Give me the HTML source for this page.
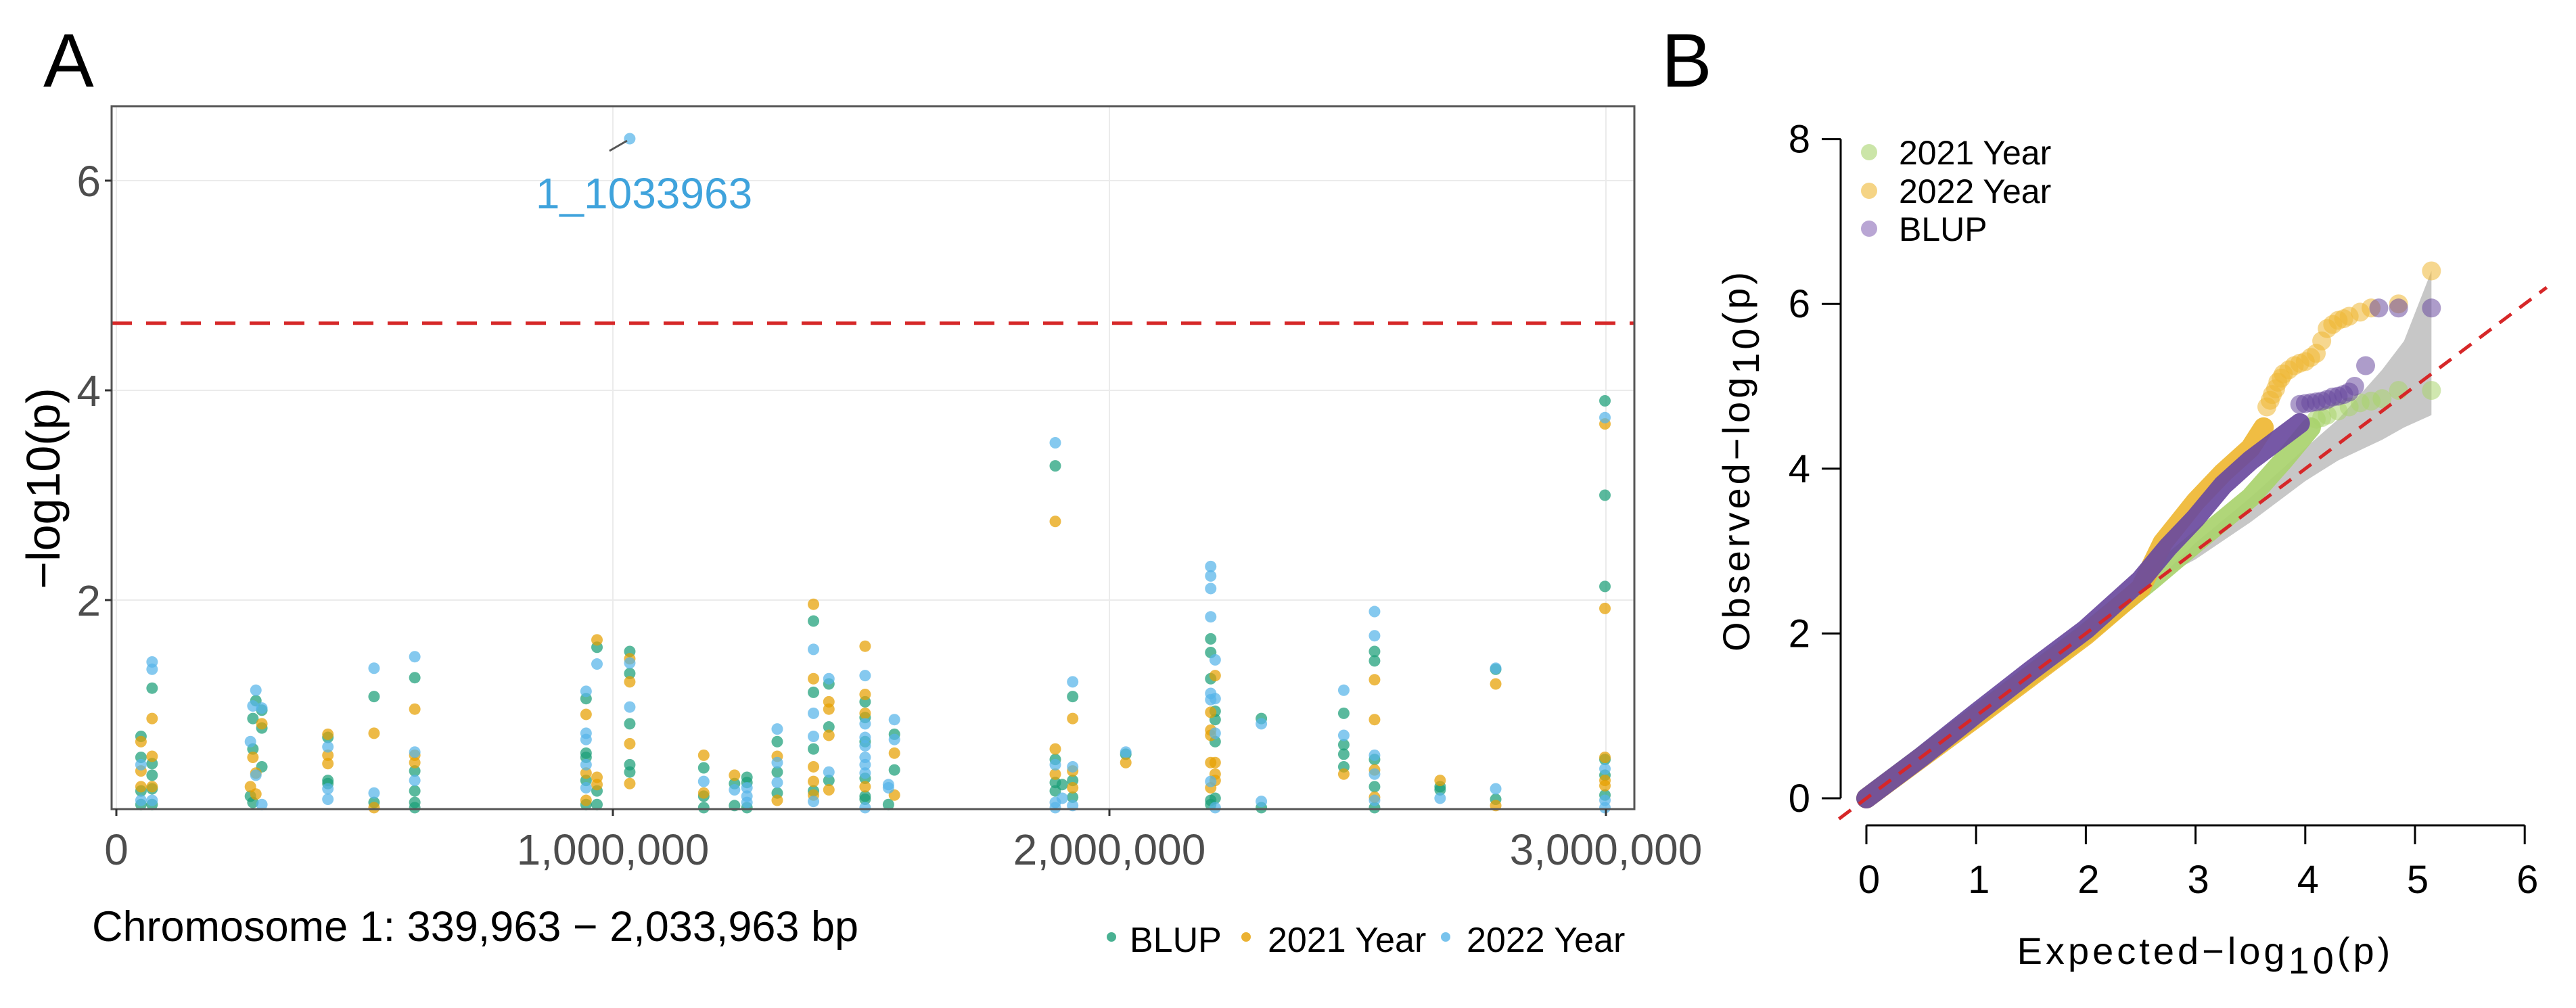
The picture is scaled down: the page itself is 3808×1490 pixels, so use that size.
<!DOCTYPE html>
<html><head><meta charset="utf-8"><style>
html,body{margin:0;padding:0;background:#fff;}
svg{display:block;font-family:"Liberation Sans",Arial,sans-serif;}
</style></head><body>
<svg id="fig" width="3808" height="1490" viewBox="0 0 3808 1490" xmlns="http://www.w3.org/2000/svg">
<g id="panelA"></g>
<g id="panelB"></g>
</svg>
<script>
// ---------- Panel A data (position bp, -log10 p) ----------
const blupPts = [
[49600,0.70],[49600,0.50],[49600,0.18],[49600,0.05],
[72000,1.16],[72000,0.44],[72000,0.33],[72000,0.20],[72000,0.05],
[281000,1.04],[293000,0.95],[275000,0.87],[293000,0.78],[275000,0.58],[293000,0.41],[270000,0.13],[275000,0.07],
[426000,0.69],[426000,0.28],[426000,0.25],
[519000,1.08],[519000,0.07],
[601000,1.26],[601000,0.37],[601000,0.18],[601000,0.07],[601000,0.02],
[946000,1.06],[946000,0.54],[946000,0.50],[946000,0.28],[946000,0.05],
[968000,1.55],[968000,0.18],[968000,0.05],
[1034000,1.51],[1034000,1.30],[1034000,0.82],[1034000,0.43],[1034000,0.36],
[1183000,0.40],[1183000,0.13],[1183000,0.02],
[1245000,0.25],[1245000,0.04],[1270000,0.31],[1270000,0.26],[1270000,0.02],
[1331000,0.65],[1331000,0.36],[1331000,0.16],
[1404000,1.80],[1404000,1.12],[1404000,0.58],[1404000,0.18],
[1435000,1.20],[1435000,0.79],[1435000,0.28],
[1508000,1.03],[1508000,0.88],[1508000,0.65],[1508000,0.30],[1508000,0.13],[1508000,0.10],
[1555000,0.05],[1567000,0.72],[1567000,0.38],
[1891000,3.28],[1891000,0.48],[1891000,0.26],[1891000,0.18],[1905000,0.24],
[1926000,1.08],[1926000,0.28],[1926000,0.12],
[2033000,0.53],
[2204000,1.63],[2204000,1.50],[2204000,1.25],[2204000,0.09],[2204000,0.05],
[2213000,0.94],[2213000,0.86],[2213000,0.65],[2213000,0.11],
[2306000,0.87],[2306000,0.02],
[2472000,0.92],[2472000,0.62],[2472000,0.53],[2472000,0.41],
[2534000,1.51],[2534000,1.42],[2534000,0.48],[2534000,0.22],[2534000,0.02],
[2666000,0.22],[2666000,0.19],
[2778000,1.34],[2778000,0.10],
[2998000,3.90],[2998000,3.00],[2998000,2.13],[2998000,0.48],[2998000,0.33],[2998000,0.14]
];
const y2021Pts = [
[49600,0.65],[49600,0.37],[49600,0.22],
[72000,0.87],[72000,0.51],[72000,0.22],
[293000,0.82],[275000,0.50],[281000,0.35],[270000,0.22],[281000,0.15],
[426000,0.72],[426000,0.52],[426000,0.44],
[519000,0.73],[519000,0.02],
[601000,0.96],[601000,0.52],[601000,0.45],
[946000,0.91],[946000,0.35],[946000,0.09],
[968000,1.62],[968000,0.31],[968000,0.24],
[1034000,1.44],[1034000,1.22],[1034000,0.63],[1034000,0.25],
[1183000,0.52],[1183000,0.16],[1245000,0.33],
[1331000,0.51],[1331000,0.09],
[1404000,1.96],[1404000,1.25],[1404000,0.41],[1404000,0.27],[1404000,0.14],
[1435000,1.03],[1435000,0.96],[1435000,0.71],[1435000,0.19],
[1508000,1.56],[1508000,1.10],[1508000,0.92],[1508000,0.22],
[1567000,0.54],[1567000,0.14],
[1891000,2.75],[1891000,0.58],[1891000,0.34],
[1926000,0.87],[1926000,0.37],[1926000,0.21],
[2033000,0.45],
[2204000,0.93],[2204000,0.76],[2204000,0.71],[2204000,0.45],[2204000,0.21],
[2213000,1.28],[2213000,0.45],[2213000,0.34],[2213000,0.28],
[2472000,0.34],
[2534000,1.24],[2534000,0.86],[2534000,0.38],[2534000,0.12],
[2666000,0.28],
[2778000,1.20],[2778000,0.04],
[2998000,3.68],[2998000,1.92],[2998000,0.50],[2998000,0.28],[2998000,0.23]
];
const y2022Pts = [
[49600,0.43],[49600,0.09],
[72000,1.41],[72000,1.34],[72000,0.09],
[281000,1.14],[275000,0.99],[293000,0.97],[270000,0.65],[281000,0.33],[293000,0.05],
[426000,0.60],[426000,0.20],[426000,0.10],
[519000,1.35],[519000,0.16],
[601000,1.46],[601000,0.55],[601000,0.28],
[946000,1.13],[946000,0.73],[946000,0.67],[946000,0.43],[946000,0.21],
[968000,1.39],
[1034000,1.40],[1034000,0.98],
[1033963,6.40],
[1183000,0.27],[1245000,0.19],[1270000,0.21],[1270000,0.13],[1270000,0.07],
[1331000,0.77],[1331000,0.45],[1331000,0.26],
[1404000,1.53],[1404000,0.92],[1404000,0.70],[1404000,0.08],
[1435000,1.25],[1435000,0.36],
[1508000,1.28],[1508000,0.82],[1508000,0.69],[1508000,0.61],[1508000,0.50],[1508000,0.43],[1508000,0.35],[1508000,0.02],
[1555000,0.24],[1555000,0.21],
[1567000,0.86],[1567000,0.67],
[1891000,3.50],[1891000,0.43],[1891000,0.07],[1891000,0.02],[1905000,0.11],
[1926000,1.22],[1926000,0.41],[1926000,0.04],
[2033000,0.55],
[2204000,2.32],[2204000,2.23],[2204000,2.11],[2204000,1.84],[2204000,1.11],[2204000,1.05],[2204000,0.27],
[2213000,1.43],[2213000,1.06],[2213000,0.73],[2213000,0.02],
[2306000,0.82],[2306000,0.08],
[2472000,1.14],[2472000,0.71],
[2534000,1.89],[2534000,1.66],[2534000,0.52],[2534000,0.34],[2534000,0.09],
[2666000,0.11],
[2778000,1.35],[2778000,0.20],
[2998000,3.74],[2998000,0.39],[2998000,0.09],[2998000,0.02]
];
const yTicksA = [2,4,6];
const xTicksA = [0,1000000,2000000,3000000];
const xTickLabelsA = ["0","1,000,000","2,000,000","3,000,000"];
const thresholdA = 4.64;

// ---------- Panel B data ----------
const qqTicksX = [0,1,2,3,4,5,6];
const qqTicksY = [0,2,4,6,8];
const ciExp = [2.65,3.0,3.5,4.0,4.3,4.7,4.9,5.15];
const ciUpper = [2.65,3.1,3.65,4.25,4.6,5.2,5.55,6.4];
const ciLower = [2.65,2.9,3.35,3.85,4.1,4.35,4.5,4.65];
const y2021LineExp = [0,1,2,2.6,3,3.5,3.8,4.05];
const y2021LineObs = [0,1.0,2.0,2.65,3.1,3.65,4.1,4.5];
const y2021TailExp = [4.1,4.15,4.2,4.3,4.4,4.5,4.6,4.7,4.85,5.15];
const y2021TailObs = [4.6,4.62,4.65,4.7,4.75,4.8,4.82,4.85,4.95,4.95];
const y2022LineExp = [0,1,2,2.5,2.7,3,3.25,3.5,3.62];
const y2022LineObs = [0,0.98,1.98,2.55,3.1,3.6,3.95,4.25,4.5];
const y2022TailExp = [3.65,3.68,3.7,3.73,3.75,3.78,3.8,3.85,3.9,3.95,4.0,4.05,4.1,4.15,4.2,4.25,4.3,4.35,4.4,4.5,4.6,4.85,5.15];
const y2022TailObs = [4.75,4.83,4.9,4.97,5.05,5.1,5.15,5.2,5.25,5.28,5.3,5.35,5.4,5.55,5.7,5.75,5.8,5.82,5.85,5.9,5.95,6.0,6.4];
const blupLineExp = [0,0.5,1,1.5,2,2.5,2.75,3,3.25,3.5,3.75,3.95];
const blupLineObs = [0,0.5,1.03,1.55,2.05,2.65,3.05,3.4,3.8,4.1,4.35,4.55];
const blupTailExp = [3.95,4.0,4.05,4.1,4.15,4.2,4.25,4.3,4.35,4.4,4.45,4.55,4.67,4.85,5.15];
const blupTailObs = [4.78,4.79,4.8,4.81,4.82,4.84,4.87,4.88,4.9,4.93,5.0,5.25,5.95,5.95,5.95];

const NS = "http://www.w3.org/2000/svg";
function mk(tag, attrs, parent){const e=document.createElementNS(NS,tag);for(const k in attrs)e.setAttribute(k,attrs[k]);parent.appendChild(e);return e;}

// ================= Panel A =================
const A = document.getElementById('panelA');
const ax = v => 172 + v/1e6*734;
const ay = v => 1197 - v*155;
const boxL=165, boxR=2416, boxT=157, boxB=1196;

let t = mk('text',{x:64,y:128,'font-size':112,fill:'#000'},A); t.textContent='A';



yTicksA.forEach(v=>{const g=mk('line',{x1:boxL,x2:boxR,y1:ay(v),y2:ay(v),stroke:'#ebebeb','stroke-width':2},A);

});
xTicksA.forEach(v=>{const g=mk('line',{x1:ax(v),x2:ax(v),y1:boxT,y2:boxB,stroke:'#ebebeb','stroke-width':2},A);

});

let th = mk('line',{x1:boxL,x2:boxR,y1:ay(thresholdA),y2:ay(thresholdA),stroke:'#d62728','stroke-width':5,'stroke-dasharray':'30 21'},A);



function drawSeries(pts,color,name){
  const g = mk('g',{},A);
  
  
  pts.forEach(p=>{const c=mk('circle',{cx:ax(p[0]),cy:ay(p[1]),r:8.5,fill:color,'fill-opacity':0.72},g);
    
    });
}
drawSeries(blupPts,'#1b9e77','blup-series');
drawSeries(y2021Pts,'#e69f00','year-2021-series');
drawSeries(y2022Pts,'#56b4e9','year-2022-series');

let al = mk('line',{x1:ax(1033963)-4,y1:ay(6.4)+3,x2:ax(1033963)-30,y2:ay(6.4)+18,stroke:'#555','stroke-width':3},A);


t = mk('text',{x:952,y:308,'font-size':64,fill:'#3fa3dc','text-anchor':'middle'},A); t.textContent='1_1033963';



let bx = mk('rect',{x:boxL,y:boxT,width:boxR-boxL,height:boxB-boxT,fill:'none',stroke:'#555','stroke-width':3},A);



yTicksA.forEach(v=>{
  const l=mk('line',{x1:boxL-10,x2:boxL,y1:ay(v),y2:ay(v),stroke:'#333','stroke-width':3},A);
  
  
  const tx=mk('text',{x:boxL-16,y:ay(v)+23,'font-size':64,fill:'#4d4d4d','text-anchor':'end'},A); tx.textContent=String(v);
  
  
});
xTicksA.forEach((v,i)=>{
  const l=mk('line',{x1:ax(v),x2:ax(v),y1:boxB,y2:boxB+10,stroke:'#333','stroke-width':3},A);
  
  
  const tx=mk('text',{x:ax(v),y:1278,'font-size':64,fill:'#4d4d4d','text-anchor':'middle'},A); tx.textContent=xTickLabelsA[i];
  
  
});
t = mk('text',{x:0,y:0,'font-size':70,fill:'#000','text-anchor':'middle',transform:'translate(88,722) rotate(-90)'},A); t.textContent='\u2212log10(p)';


t = mk('text',{x:136,y:1391,'font-size':63,fill:'#000'},A); t.textContent='Chromosome 1: 339,963 \u2212 2,033,963 bp';



const legA = [['BLUP','#1b9e77',1643,1670],['2021 Year','#e69f00',1842,1874],['2022 Year','#56b4e9',2137,2168]];
legA.forEach(L=>{
  const g=mk('g',{},A);
  
  
  mk('circle',{cx:L[2],cy:1385,r:7,fill:L[1],'fill-opacity':0.8},g);
  const tx=mk('text',{x:L[3],y:1407,'font-size':52,fill:'#000'},g); tx.textContent=L[0];
});

// ================= Panel B =================
const B = document.getElementById('panelB');
const bx_ = v => 2759 + v*162.2;
const by_ = v => 1180 - v*121.8;

t = mk('text',{x:2456,y:128,'font-size':112,fill:'#000'},B); t.textContent='B';



let d = 'M'+ciExp.map((e,i)=>bx_(e)+','+by_(ciUpper[i])).join(' L');
for(let i=ciExp.length-1;i>=0;i--) d+=' L'+bx_(ciExp[i])+','+by_(ciLower[i]);
d+='Z';
let band = mk('path',{d:d,fill:'#bdbdbd','fill-opacity':0.85},B);



function qqSeries(lx,ly,tx,ty,color,name){
  const g=mk('g',{},B);
  
  
  const pl=mk('polyline',{points:lx.map((e,i)=>bx_(e)+','+by_(ly[i])).join(' '),fill:'none',stroke:color,'stroke-width':30,'stroke-linecap':'round','stroke-linejoin':'round','stroke-opacity':0.92},g);
  
  
  tx.forEach((e,i)=>{const c=mk('circle',{cx:bx_(e),cy:by_(ty[i]),r:14,fill:color,'fill-opacity':0.55},g);
    
    });
}
qqSeries(y2021LineExp,y2021LineObs,y2021TailExp,y2021TailObs,'#a9d36e','qq-2021-series');
qqSeries(y2022LineExp,y2022LineObs,y2022TailExp,y2022TailObs,'#efb733','qq-2022-series');
qqSeries(blupLineExp,blupLineObs,blupTailExp,blupTailObs,'#6a4a9e','qq-blup-series');

let dg = mk('line',{x1:bx_(-0.25),y1:by_(-0.25),x2:bx_(6.2),y2:by_(6.2),stroke:'#d62728','stroke-width':5,'stroke-dasharray':'22 15'},B);



let ya = mk('line',{x1:2721,x2:2721,y1:by_(8),y2:by_(0),stroke:'#000','stroke-width':3},B);


qqTicksY.forEach(v=>{
  const l=mk('line',{x1:2693,x2:2721,y1:by_(v),y2:by_(v),stroke:'#000','stroke-width':3},B);
  
  
  const tx=mk('text',{x:2676,y:by_(v)+20,'font-size':58,fill:'#000','text-anchor':'end'},B); tx.textContent=String(v);
  
  
});
let xa = mk('line',{x1:bx_(0),x2:bx_(6),y1:1220,y2:1220,stroke:'#000','stroke-width':3},B);


qqTicksX.forEach(v=>{
  const l=mk('line',{x1:bx_(v),x2:bx_(v),y1:1220,y2:1248,stroke:'#000','stroke-width':3},B);
  
  
  const tx=mk('text',{x:bx_(v)+4,y:1320,'font-size':58,fill:'#000','text-anchor':'middle'},B); tx.textContent=String(v);
  
  
});
t = mk('text',{x:3260,y:1425,'font-size':56,fill:'#000','text-anchor':'middle','letter-spacing':5},B);
t.innerHTML='Expected\u2212log<tspan dy="14">10</tspan><tspan dy="-14">(p)</tspan>';


t = mk('text',{x:0,y:0,'font-size':56,fill:'#000','text-anchor':'middle','letter-spacing':5,transform:'translate(2586,680) rotate(-90)'},B);
t.innerHTML='Observed\u2212log<tspan dy="14">10</tspan><tspan dy="-14">(p)</tspan>';



const legB = [['2021 Year','#a9d36e',225],['2022 Year','#efb733',282],['BLUP','#8a6bb8',338]];
legB.forEach(L=>{
  const g=mk('g',{},B);
  
  
  mk('circle',{cx:2763,cy:L[2],r:12,fill:L[1],'fill-opacity':0.6},g);
  const tx=mk('text',{x:2807,y:L[2]+18,'font-size':50,fill:'#000'},g); tx.textContent=L[0];
});
</script>
</body></html>
